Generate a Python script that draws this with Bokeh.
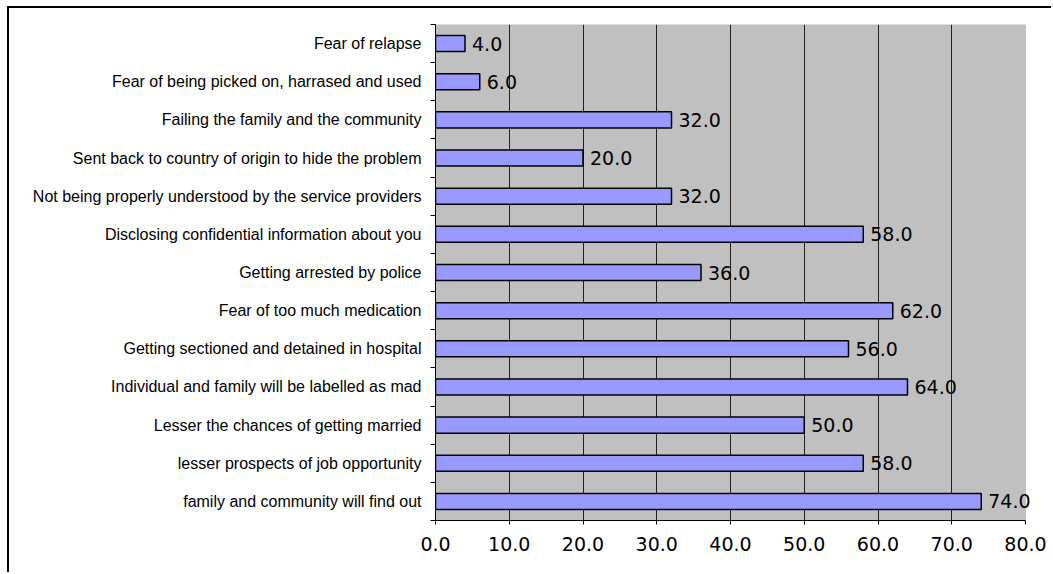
from bokeh.plotting import figure
from bokeh.models import (ColumnDataSource, FixedTicker, Range1d, LabelSet,
                          BoxAnnotation)
from bokeh.core.properties import value
from bokeh.embed import file_html
from bokeh.resources import INLINE

# Reasons given, listed from top to bottom as drawn
categories = [
    "Fear of relapse",
    "Fear of being picked on, harrased and used",
    "Failing the family and the community",
    "Sent back to country of origin to hide the problem",
    "Not being properly understood by the service providers",
    "Disclosing confidential information about you",
    "Getting arrested by police",
    "Fear of too much medication",
    "Getting sectioned and detained in hospital",
    "Individual and family will be labelled as mad",
    "Lesser the chances of getting married",
    "lesser prospects of job opportunity",
    "family and community will find out",
]
percentages = [4.0, 6.0, 32.0, 20.0, 32.0, 58.0, 36.0, 62.0, 56.0, 64.0, 50.0, 58.0, 74.0]
x_ticks = [0, 10, 20, 30, 40, 50, 60, 70, 80]

n = len(categories)
# first category sits at the top
ypos = [n - i for i in range(n)]

source = ColumnDataSource(dict(
    y=ypos,
    value=percentages,
    label=["{:.1f}".format(v) for v in percentages],
))

x_max = x_ticks[-1]
# a little room past the last tick so value labels are not cut off
x_end = x_max * 600 / 590

p = figure(width=1044, height=566, output_backend="svg", toolbar_location=None,
           x_range=Range1d(0, x_end), y_range=Range1d(0.5, n + 0.5),
           min_border_left=426, min_border_right=18,
           min_border_top=16, min_border_bottom=54)

# chart border (top and left edges visible)
p.styles = {"margin-left": "7px", "margin-top": "6px",
            "border-left": "2px solid black", "border-top": "2px solid black"}

p.border_fill_color = "white"
p.background_fill_color = "white"
p.outline_line_color = None

# grey plot area, 0 to the last tick
p.add_layout(BoxAnnotation(left=0, right=x_max, fill_color="#C0C0C0",
                           fill_alpha=1, line_color="#808080", line_width=1,
                           level="image"))

p.hbar(y="y", right="value", left=0, height=0.42, source=source,
       fill_color="#9999FF", line_color="black", line_width=1.5)

labels = LabelSet(x="value", y="y", text="label", source=source,
                  x_offset=7, text_baseline="middle", text_align="left",
                  text_font=value("DejaVu Sans"), text_font_size=value("19px"),
                  text_color=value("black"))
p.add_layout(labels)

# x axis
p.xaxis.bounds = (0, x_max)
p.xaxis.ticker = FixedTicker(ticks=x_ticks)
p.xaxis.major_label_overrides = {t: "{:.1f}".format(t) for t in x_ticks}
p.xaxis.major_label_text_font = "DejaVu Sans"
p.xaxis.major_label_text_font_size = "19px"
p.xaxis.major_label_text_color = "black"
p.xaxis.major_tick_in = 0
p.xaxis.major_tick_out = 4
p.xaxis.major_tick_line_color = "black"
p.xaxis.minor_tick_line_color = None
p.xaxis.axis_line_color = "black"
p.xaxis.major_label_standoff = 12

# y axis: labels at category centres, ticks on the boundaries
p.yaxis.ticker = FixedTicker(ticks=ypos,
                             minor_ticks=[k + 0.5 for k in range(n + 1)])
p.yaxis.major_label_overrides = {y: c for y, c in zip(ypos, categories)}
p.yaxis.major_label_text_font = "Liberation Sans"
p.yaxis.major_label_text_font_size = "16px"
p.yaxis.major_label_text_color = "black"
p.yaxis.major_tick_line_color = None
p.yaxis.major_tick_in = 0
p.yaxis.major_tick_out = 0
p.yaxis.minor_tick_in = 0
p.yaxis.minor_tick_out = 5
p.yaxis.minor_tick_line_color = "black"
p.yaxis.axis_line_color = "black"
p.yaxis.major_label_standoff = 9

p.xgrid.ticker = FixedTicker(ticks=x_ticks[1:-1])
p.xgrid.grid_line_color = "#202020"
p.xgrid.grid_line_width = 1
p.ygrid.grid_line_color = None

open("out.html", "w").write(file_html(p, INLINE))
